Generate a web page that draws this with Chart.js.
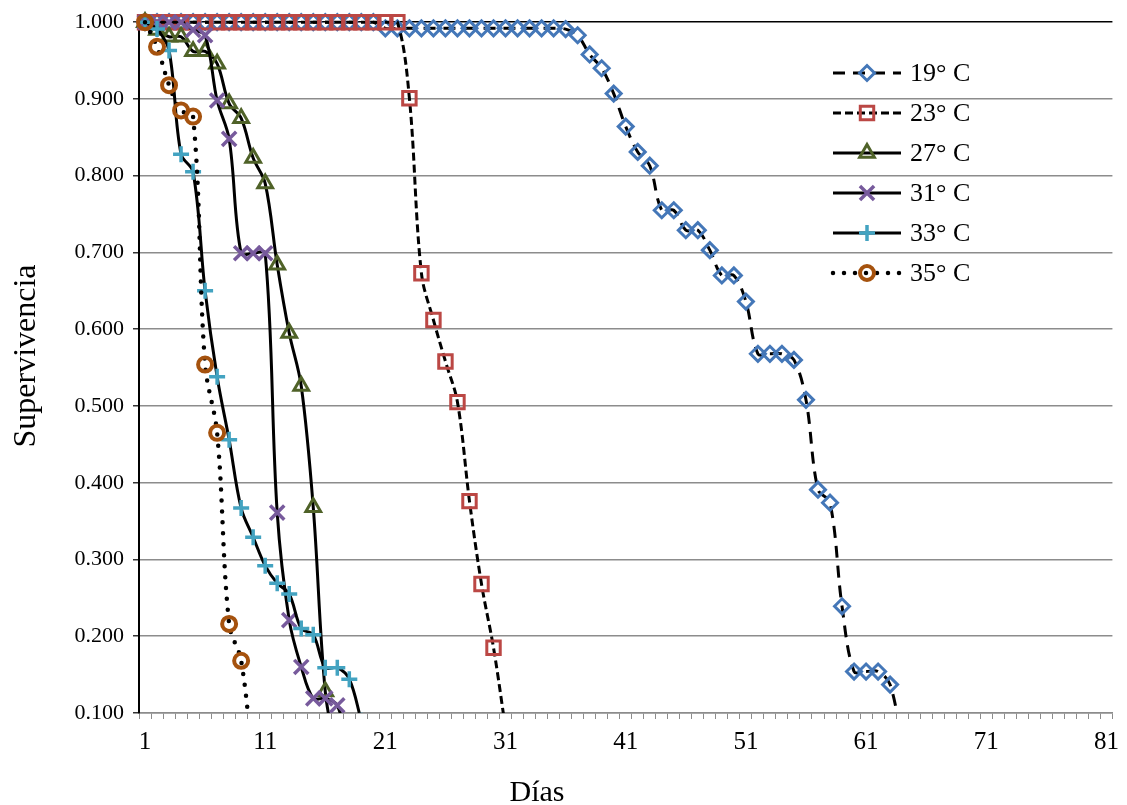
<!DOCTYPE html>
<html>
<head>
<meta charset="utf-8">
<script src="https://cdn.jsdelivr.net/npm/chart.js@4.4.0/dist/chart.umd.min.js"></script>
<style>
body { margin: 0; background: #fff; }
</style>
</head>
<body>
<canvas id="supervivencia" width="1127" height="805"></canvas>
<script>
var dias = ['1','2','3','4','5','6','7','8','9','10','11','12','13','14','15','16','17','18','19','20',
  '21','22','23','24','25','26','27','28','29','30','31','32','33','34','35','36','37','38','39','40',
  '41','42','43','44','45','46','47','48','49','50','51','52','53','54','55','56','57','58','59','60',
  '61','62','63','64','65','66','67','68','69','70','71','72','73','74','75','76','77','78','79','80','81']
var etiquetasX = ['1','11','21','31','41','51','61','71','81']

var t19 = [1,1,1,1,1,1,1,1,1,1, 1,1,1,1,1,1,1,1,1,1,
  0.992,0.992,0.992,0.992,0.992,0.992,0.992,0.992,0.992,0.992,
  0.992,0.992,0.992,0.992,0.992,0.991,0.983,0.958,0.940,0.907,
  0.864,0.831,0.813,0.755,0.755,0.729,0.729,0.703,0.670,0.670,
  0.636,0.568,0.568,0.568,0.560,0.508,0.391,0.374,0.239,0.154,
  0.154,0.154,0.137,0.060]
var t23 = [1,1,1,1,1,1,1,1,1,1, 1,1,1,1,1,1,1,1,1,1, 1,1,
  0.901,0.673,0.612,0.558,0.505,0.376,0.268,0.185,0.080]
var t27 = [1.000,0.990,0.981,0.981,0.962,0.962,0.946,0.894,0.875,0.823,0.790,0.684,0.595,0.526,0.368,0.128,0.040]
var t31 = [1.000,1.000,1.000,1.000,0.990,0.983,0.898,0.848,0.699,0.699,0.699,0.361,0.221,0.160,0.119,0.119,0.110,0.050]
var t33 = [1.000,0.991,0.963,0.828,0.805,0.650,0.538,0.456,0.367,0.329,0.292,0.269,0.255,0.210,0.202,0.159,0.159,0.144,0.090]
var t35 = [1.000,0.968,0.918,0.885,0.877,0.554,0.465,0.216,0.168,0.030]

var serif = '"Liberation Serif", "Times New Roman", serif'
var recorte = {left: false, top: false, right: false, bottom: 0}

function serie(label, data, color, estilo, radio, anchoPunto, ancho, dash, cap, orden) {
  return {
    label: label,
    data: data,
    borderColor: '#000',
    borderWidth: ancho,
    borderDash: dash,
    borderCapStyle: cap,
    tension: 0.35,
    pointStyle: estilo,
    pointRadius: radio,
    pointBorderWidth: anchoPunto,
    pointBorderColor: color,
    pointBackgroundColor: 'rgba(0,0,0,0)',
    clip: recorte,
    order: orden
  }
}

var leyenda = {
  id: 'leyenda',
  afterDraw: function(chart) {
    var ctx = chart.ctx
    chart.data.datasets.forEach(function(ds, i) {
      var y = 73 + i * 40
      ctx.save()
      ctx.strokeStyle = '#000'
      ctx.lineWidth = ds.borderWidth
      ctx.lineCap = ds.borderCapStyle
      ctx.setLineDash(ds.borderDash)
      ctx.beginPath()
      ctx.moveTo(833, y)
      ctx.lineTo(901, y)
      ctx.stroke()
      ctx.setLineDash([])
      ctx.strokeStyle = ds.pointBorderColor
      ctx.fillStyle = 'rgba(0,0,0,0)'
      ctx.lineWidth = ds.pointBorderWidth
      Chart.helpers.drawPoint(ctx, {pointStyle: ds.pointStyle, radius: ds.pointRadius, rotation: 0, borderWidth: ds.pointBorderWidth}, 867, y)
      ctx.fillStyle = '#000'
      ctx.font = '26px ' + serif
      ctx.textBaseline = 'middle'
      ctx.textAlign = 'left'
      ctx.fillText(ds.label, 910, y + 1)
      ctx.restore()
    })

    ctx.save()
    ctx.fillStyle = '#000'
    ctx.textAlign = 'center'
    ctx.textBaseline = 'alphabetic'
    ctx.font = '30px ' + serif
    ctx.fillText('Días', 537, 801)
    ctx.font = '32px ' + serif
    ctx.translate(35, 356)
    ctx.rotate(-Math.PI / 2)
    ctx.fillText('Supervivencia', 0, 0)
    ctx.restore()
  }
}

var ctx = document.getElementById('supervivencia').getContext('2d')
new Chart(ctx, {
  type: 'line',
  data: {
    labels: dias,
    datasets: [
      serie('19° C', t19, '#4477B8', 'rectRot', 7.5, 3, 3, [12, 8], 'butt', 5),
      serie('23° C', t23, '#BB4744', 'rect', 9.5, 3, 3, [8, 4], 'butt', 4),
      serie('27° C', t27, '#4F6228', 'triangle', 8.5, 3, 3, [], 'butt', 3),
      serie('31° C', t31, '#775A9C', 'crossRot', 10, 3.5, 3, [], 'butt', 2),
      serie('33° C', t33, '#43A3C1', 'cross', 8, 3.5, 3, [], 'butt', 1),
      serie('35° C', t35, '#A5520E', 'circle', 7, 4, 4.5, [0, 11], 'round', 0)
    ]
  },
  options: {
    responsive: false,
    animation: false,
    events: [],
    layout: { padding: { top: 20, right: 10, left: 0, bottom: 0 } },
    plugins: {
      legend: { display: false },
      tooltip: { enabled: false }
    },
    scales: {
      x: {
        offset: true,
        afterFit: function(scale) { scale.height = 92 },
        border: { color: '#8C8C8C', width: 1.5 },
        grid: { display: true, drawOnChartArea: false, offset: true, tickLength: 6, color: '#8C8C8C', lineWidth: 1 },
        ticks: {
          autoSkip: false,
          maxRotation: 0,
          minRotation: 0,
          padding: 8,
          color: '#000',
          font: { family: serif, size: 25 },
          callback: function(val, i) {
            return etiquetasX.indexOf(dias[i]) >= 0 ? dias[i] : ''
          }
        }
      },
      y: {
        min: 0.1,
        max: 1.0,
        afterFit: function(scale) { scale.width = 139 },
        border: { color: '#000', width: 2 },
        grid: {
          color: function(c) { return c.tick && Math.abs(c.tick.value - 1) < 1e-6 ? '#000' : '#8C8C8C' },
          lineWidth: 1.5,
          tickLength: 6,
          tickColor: '#333'
        },
        ticks: {
          stepSize: 0.1,
          padding: 9,
          color: '#000',
          font: { family: serif, size: 22 },
          callback: function(v) { return v.toFixed(3) }
        }
      }
    }
  },
  plugins: [leyenda]
})
</script>
</body>
</html>
